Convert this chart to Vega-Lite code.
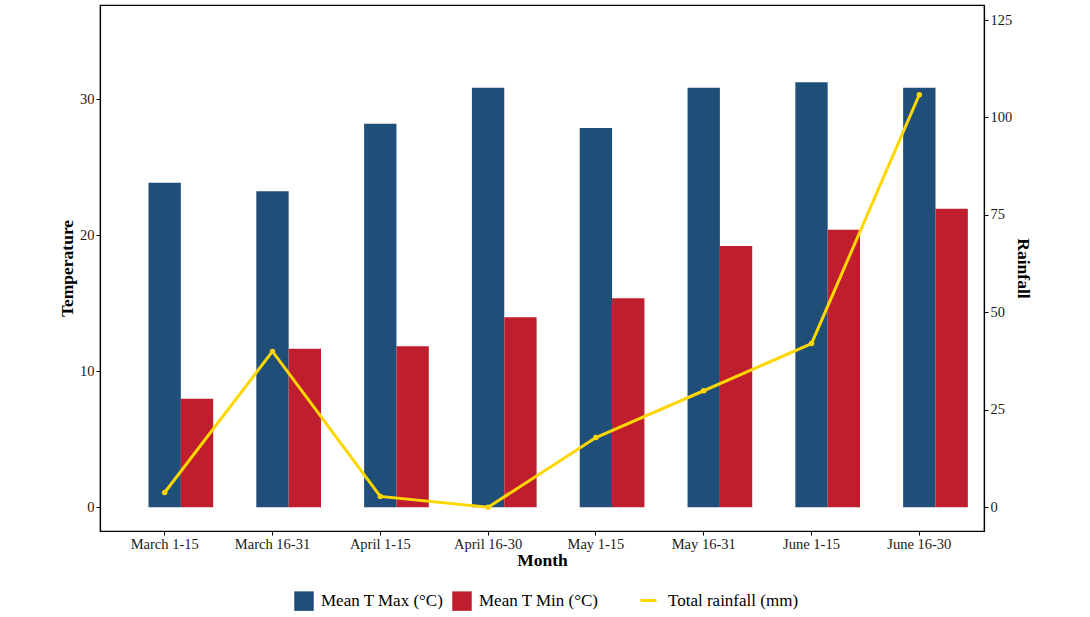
{
  "$schema": "https://vega.github.io/schema/vega-lite/v6.json",
  "width": 884,
  "height": 526,
  "autosize": {"type": "none"},
  "padding": {"left": 100, "top": 5, "right": 106, "bottom": 86},
  "background": "white",
  "config": {
    "font": "Liberation Serif",
    "view": {"stroke": "black", "strokeWidth": 1.2},
    "axis": {
      "labelFont": "Liberation Serif",
      "titleFont": "Liberation Serif",
      "labelFontSize": 14.5,
      "titleFontSize": 17.5,
      "titleFontWeight": "bold",
      "labelColor": "#1a1a1a",
      "titleColor": "black",
      "domainColor": "black",
      "tickColor": "black",
      "tickSize": 4,
      "labelPadding": 2,
      "grid": false,
      "domainWidth": 1.2
    },
    "legend": {
      "labelFont": "Liberation Serif",
      "labelFontSize": 17,
      "labelColor": "black",
      "padding": 0
    }
  },
  "datasets": {
    "temps": [
      {"period": "March 1-15", "series": "Mean T Max (°C)", "temp": 23.84},
      {"period": "March 1-15", "series": "Mean T Min (°C)", "temp": 7.97},
      {"period": "March 16-31", "series": "Mean T Max (°C)", "temp": 23.23},
      {"period": "March 16-31", "series": "Mean T Min (°C)", "temp": 11.65},
      {"period": "April 1-15", "series": "Mean T Max (°C)", "temp": 28.18},
      {"period": "April 1-15", "series": "Mean T Min (°C)", "temp": 11.83},
      {"period": "April 16-30", "series": "Mean T Max (°C)", "temp": 30.83},
      {"period": "April 16-30", "series": "Mean T Min (°C)", "temp": 13.96},
      {"period": "May 1-15", "series": "Mean T Max (°C)", "temp": 27.87},
      {"period": "May 1-15", "series": "Mean T Min (°C)", "temp": 15.36},
      {"period": "May 16-31", "series": "Mean T Max (°C)", "temp": 30.83},
      {"period": "May 16-31", "series": "Mean T Min (°C)", "temp": 19.2},
      {"period": "June 1-15", "series": "Mean T Max (°C)", "temp": 31.23},
      {"period": "June 1-15", "series": "Mean T Min (°C)", "temp": 20.4},
      {"period": "June 16-30", "series": "Mean T Max (°C)", "temp": 30.83},
      {"period": "June 16-30", "series": "Mean T Min (°C)", "temp": 21.94}
    ],
    "rain": [
      {"period": "March 1-15", "rain": 3.8},
      {"period": "March 16-31", "rain": 40.0},
      {"period": "April 1-15", "rain": 2.8},
      {"period": "April 16-30", "rain": 0.0},
      {"period": "May 1-15", "rain": 17.9},
      {"period": "May 16-31", "rain": 29.9},
      {"period": "June 1-15", "rain": 42.0},
      {"period": "June 16-30", "rain": 105.85}
    ]
  },
  "layer": [
    {
      "data": {"name": "temps"},
      "mark": {"type": "bar"},
      "encoding": {
        "x": {
          "field": "period", "type": "nominal", "sort": null,
          "scale": {"type": "band", "paddingInner": 0, "paddingOuter": 0.1, "round": false},
          "axis": {"title": "Month", "labelAngle": 0, "titlePadding": 1}
        },
        "xOffset": {
          "field": "series", "type": "nominal", "sort": null,
          "scale": {"domain": ["Mean T Max (°C)", "Mean T Min (°C)"], "paddingInner": 0, "paddingOuter": 0.6667, "align": 0.875, "round": false}
        },
        "y": {
          "field": "temp", "type": "quantitative", "stack": null,
          "scale": {"domain": [-1.74, 36.91], "nice": false, "zero": false},
          "axis": {"title": "Temperature", "values": [0, 10, 20, 30], "titlePadding": 3}
        },
        "fill": {
          "field": "series", "type": "nominal",
          "scale": {"domain": ["Mean T Max (°C)", "Mean T Min (°C)"], "range": ["#1F4E79", "#BE1E2D"]},
          "legend": {
            "title": null, "orient": "none", "direction": "horizontal",
            "legendX": 194, "legendY": 586,
            "symbolType": "square", "symbolSize": 380, "symbolStrokeWidth": 0,
            "labelOffset": 7, "columnPadding": 8
          }
        }
      }
    },
    {
      "data": {"name": "rain"},
      "layer": [
        {
          "mark": {"type": "line", "strokeWidth": 3},
          "encoding": {
            "x": {"field": "period", "type": "nominal", "sort": null},
            "y": {
              "field": "rain", "type": "quantitative",
              "scale": {"domain": [-6.08, 128.86], "nice": false, "zero": false},
              "axis": {"orient": "right", "title": "Rainfall", "values": [0, 25, 50, 75, 100, 125], "titlePadding": 2}
            },
            "stroke": {
              "datum": "Total rainfall (mm)",
              "scale": {"range": ["#FFD700"]},
              "legend": {
                "title": null, "orient": "none", "direction": "horizontal",
                "legendX": 539, "legendY": 586,
                "symbolType": "stroke", "symbolSize": 256, "symbolStrokeWidth": 3,
                "labelOffset": 10
              }
            }
          }
        },
        {
          "mark": {"type": "point", "filled": true, "size": 30, "color": "#FFD700", "opacity": 1},
          "encoding": {
            "x": {"field": "period", "type": "nominal", "sort": null},
            "y": {"field": "rain", "type": "quantitative"}
          }
        }
      ]
    }
  ],
  "resolve": {"scale": {"y": "independent"}}
}
